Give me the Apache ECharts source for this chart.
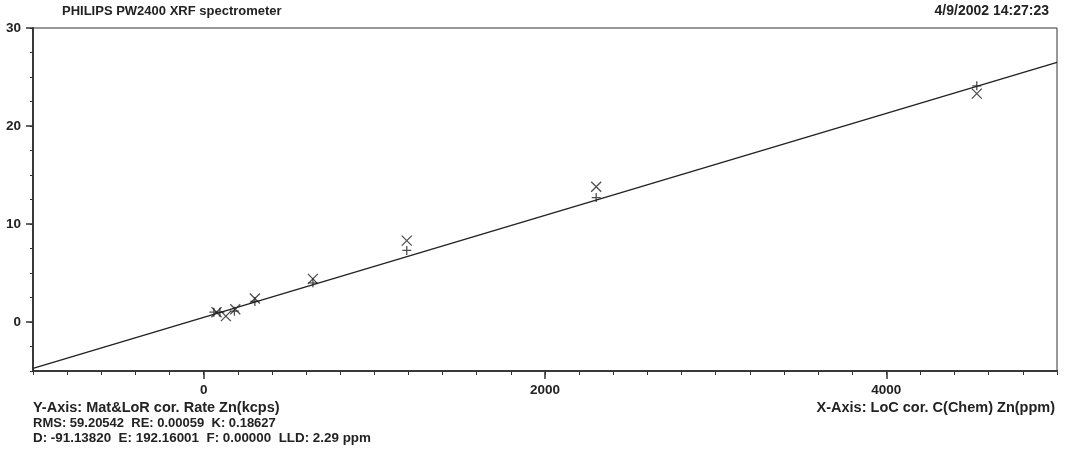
<!DOCTYPE html>
<html>
<head>
<meta charset="utf-8">
<script src="https://cdn.jsdelivr.net/npm/echarts@6/dist/echarts.min.js"></script>
<style>
html,body{margin:0;padding:0;background:#fff;}
#chart{width:1066px;height:456px;}
</style>
</head>
<body>
<div id="chart"></div>
<script>
// ---- data ----
const xTickLabels = [0, 2000, 4000];
const yTickLabels = [0, 10, 20, 30];
const plusX  = [60, 95, 180, 300, 640, 1190, 2300, 4530];
const plusY  = [1.0, 1.0, 1.1, 2.1, 4.0, 7.3, 12.7, 24.1];
const crossX = [75, 130, 185, 300, 640, 1190, 2300, 4530];
const crossY = [1.0, 0.6, 1.3, 2.4, 4.4, 8.3, 13.8, 23.3];
const fitX = [-1000, 5000];
const fitY = [-4.73, 26.49];
const titleText = 'PHILIPS PW2400 XRF spectrometer';
const dateText = '4/9/2002 14:27:23';
const yAxisText = 'Y-Axis: Mat&LoR cor. Rate Zn(kcps)';
const xAxisText = 'X-Axis: LoC cor. C(Chem) Zn(ppm)';
const statsLine1 = 'RMS: 59.20542  RE: 0.00059  K: 0.18627';
const statsLine2 = 'D: -91.13820  E: 192.16001  F: 0.00000  LLD: 2.29 ppm';

const FONT = '"Liberation Sans", Arial, sans-serif';
const INK = '#222';
const zip = (a, b) => a.map((v, i) => [v, b[i]]);

const chart = echarts.init(document.getElementById('chart'));
const labelStyle = {color: INK, fontFamily: FONT, fontWeight: 'bold', fontSize: 13.5, formatter: v => String(v)};

chart.setOption({
  animation: false,
  backgroundColor: '#fff',
  grid: {left: 33, right: 9, top: 28, bottom: 85, show: true, borderColor: '#333', borderWidth: 1, backgroundColor: 'transparent'},
  xAxis: [
    {type: 'value', min: -1000, max: 5000, interval: 200, position: 'bottom',
     axisLine: {show: true, onZero: false, lineStyle: {color: '#333', width: 1.5}},
     axisTick: {show: true, length: 4, lineStyle: {color: '#333'}},
     axisLabel: {show: false}, splitLine: {show: false}},
    {type: 'value', min: -1000, max: 5000, position: 'bottom',
     axisLine: {show: true, onZero: false, lineStyle: {color: '#333', width: 1.5}},
     axisTick: {show: true, length: 8, customValues: xTickLabels, lineStyle: {color: '#333', width: 1.5}},
     axisLabel: Object.assign({show: true, customValues: xTickLabels, margin: 12}, labelStyle),
     splitLine: {show: false}}
  ],
  yAxis: [
    {type: 'value', min: -5, max: 30, interval: 2.5, position: 'left',
     axisLine: {show: true, onZero: false, lineStyle: {color: '#333', width: 1.5}},
     axisTick: {show: true, length: 3, lineStyle: {color: '#333'}},
     axisLabel: {show: false}, splitLine: {show: false}},
    {type: 'value', min: -5, max: 30, position: 'left',
     axisLine: {show: true, onZero: false, lineStyle: {color: '#333', width: 1.5}},
     axisTick: {show: true, length: 7, customValues: yTickLabels, lineStyle: {color: '#333', width: 1.5}},
     axisLabel: Object.assign({show: true, customValues: yTickLabels, margin: 12}, labelStyle),
     splitLine: {show: false}}
  ],
  series: [
    {type: 'line', data: zip(fitX, fitY), symbol: 'none', xAxisIndex: 0, yAxisIndex: 0,
     lineStyle: {color: INK, width: 1.5}, silent: true},
    {type: 'scatter', data: zip(plusX, plusY), xAxisIndex: 0, yAxisIndex: 0,
     symbol: 'path://M0,5L10,5M5,0L5,10', symbolSize: 9,
     itemStyle: {color: 'none', borderColor: INK, borderWidth: 1.3}},
    {type: 'scatter', data: zip(crossX, crossY), xAxisIndex: 0, yAxisIndex: 0,
     symbol: 'path://M0,0L10,10M10,0L0,10', symbolSize: 10,
     itemStyle: {color: 'none', borderColor: INK, borderWidth: 1.3}}
  ],
  graphic: [
    {type: 'text', left: 62, top: 5, style: {text: titleText, font: 'bold 13px ' + FONT, fill: INK}},
    {type: 'text', right: 17, top: 4, style: {text: dateText, font: 'bold 14px ' + FONT, fill: INK}},
    {type: 'text', left: 33, top: 400, style: {text: yAxisText, font: 'bold 14.5px ' + FONT, fill: INK}},
    {type: 'text', left: 33, top: 417, style: {text: statsLine1, font: 'bold 13px ' + FONT, fill: INK}},
    {type: 'text', left: 33, top: 432, style: {text: statsLine2, font: 'bold 13.4px ' + FONT, fill: INK}},
    {type: 'text', right: 11, top: 400, style: {text: xAxisText, font: 'bold 14.5px ' + FONT, fill: INK}}
  ]
});
</script>
</body>
</html>
